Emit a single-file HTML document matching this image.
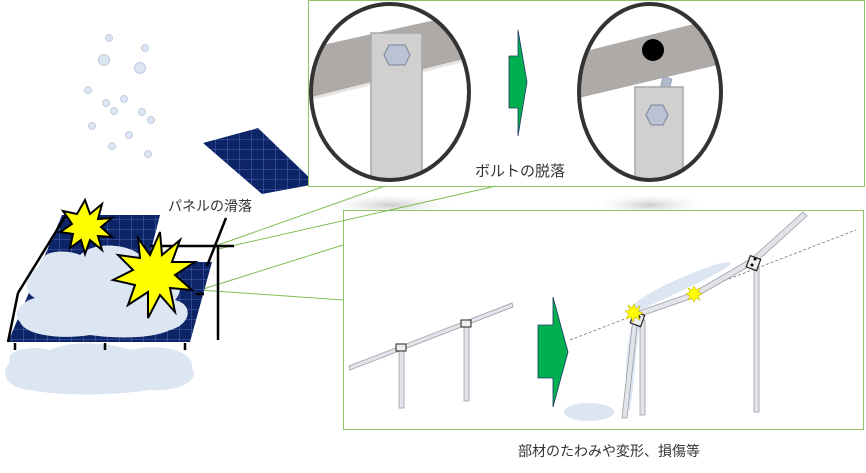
<!DOCTYPE html>
<html><head><meta charset="utf-8"><style>
html,body{margin:0;padding:0;background:#fff}
svg{display:block}
text{font-family:"Liberation Sans","Noto Sans CJK JP",sans-serif;fill:#333}
</style></head><body>
<svg width="866" height="473" viewBox="0 0 866 473" xmlns="http://www.w3.org/2000/svg">
<defs>
<pattern id="grid" width="12" height="10" patternUnits="userSpaceOnUse">
<rect width="12" height="10" fill="#0d2466"/>
<path d="M12 0V10M0 10H12" stroke="#5f7ad0" stroke-width="0.8"/>
</pattern>
<radialGradient id="sh"><stop offset="0" stop-color="#ccc"/><stop offset="1" stop-color="#fff" stop-opacity="0"/></radialGradient>
<clipPath id="c1"><ellipse cx="390" cy="92" rx="79" ry="88"/></clipPath>
<clipPath id="c2"><ellipse cx="650" cy="92" rx="71" ry="88"/></clipPath>
</defs>

<g fill="#dbe5f3" stroke="#b8c3d6" stroke-width="0.8">
<circle cx="109" cy="38" r="3.5"/><circle cx="145" cy="48" r="3.5"/><circle cx="104" cy="60" r="5.5"/><circle cx="140" cy="68" r="5.5"/>
<circle cx="88" cy="90" r="3.5"/><circle cx="106" cy="103" r="3.5"/><circle cx="124" cy="99" r="3.5"/><circle cx="114" cy="111" r="3.5"/>
<circle cx="142" cy="112" r="3.5"/><circle cx="151" cy="120" r="3.5"/><circle cx="92" cy="126" r="3.5"/><circle cx="129" cy="135" r="3.5"/>
<circle cx="112" cy="146" r="3.5"/><circle cx="148" cy="154" r="3.5"/>
</g>

<polygon points="203,143 258,128 316,184 262,194" fill="url(#grid)"/>

<ellipse cx="390" cy="205" rx="70" ry="12" fill="url(#sh)"/>
<ellipse cx="650" cy="205" rx="60" ry="12" fill="url(#sh)"/>

<rect x="308.5" y="0.5" width="556" height="186" fill="#fff" stroke="#8fc46a" stroke-width="1"/>
<g clip-path="url(#c1)">
<polygon points="300,50 480,10 480,55 300,100" fill="#aeaaa8"/>
<polygon points="300,100 480,55 480,58 300,103" fill="#e8e6e4"/>
<rect x="371" y="33" width="51" height="160" fill="#d2d0cf" stroke="#a9a7a6" stroke-width="1.5"/>
<polygon points="389,45 405,45 410,55 405,65 389,65 384,55" fill="#b9c3d4" stroke="#7a8399"/>
</g>
<ellipse cx="390" cy="92" rx="79" ry="88" fill="none" stroke="#333" stroke-width="4"/>
<polygon points="518,30 527,82 518,136 518,108 509,108 509,56 518,56" fill="#00b050" stroke="#1f3864" stroke-width="0.8"/>
<g clip-path="url(#c2)">
<polygon points="570,55 730,15 730,62 570,100" fill="#aeaaa8"/>
<polygon points="663,76 672,79 669,92 660,89" fill="#aeb9cc" stroke="#7a8399" stroke-width="0.5"/>
<rect x="635" y="87" width="48" height="110" fill="#d2d0cf" stroke="#a9a7a6" stroke-width="1.5"/>
<polygon points="651,105 663,105 668,115 663,125 651,125 646,115" fill="#b9c3d4" stroke="#7a8399"/>
<circle cx="653" cy="50" r="11" fill="#000"/>
</g>
<ellipse cx="650" cy="92" rx="71" ry="88" fill="none" stroke="#333" stroke-width="4"/>
<text x="475" y="176" font-size="15">ボルトの脱落</text>

<rect x="343.5" y="210.5" width="520" height="219" fill="#fff" stroke="#8fc46a" stroke-width="1"/>
<g stroke="#9a9da6" fill="#e2e4ea" stroke-width="0.8">
<rect x="399" y="348" width="5" height="60"/>
<rect x="464" y="323" width="5" height="78"/>
<polygon points="349,366 512,303 513,307 350,370"/>
</g>
<rect x="396" y="344" width="10" height="7" fill="#eee" stroke="#222" stroke-width="1"/>
<rect x="461" y="320" width="10" height="7" fill="#eee" stroke="#222" stroke-width="1"/>
<polygon points="553,297 568,352 553,407 553,378 538,378 538,325 553,325" fill="#00b050" stroke="#1f3864" stroke-width="0.8"/>
<!-- snow on bent structure -->
<path d="M628,410 C624,380 626,340 634,318 L640,322 C636,350 634,385 630,410 Z" fill="#dce6f3"/>
<path d="M632,306 C650,290 680,278 700,270 C720,262 740,258 726,268 C705,280 680,292 640,310 Z" fill="#dce6f3"/>
<ellipse cx="589" cy="412" rx="25" ry="9" fill="#dce6f3"/>
<line x1="570" y1="340" x2="856" y2="230" stroke="#777" stroke-width="0.8" stroke-dasharray="3,2"/>
<g stroke="#9a9da6" fill="#e2e4ea" stroke-width="0.8">
<polygon points="633,318 638,318 627,418 622,418"/>
<rect x="640" y="320" width="5" height="95"/>
<rect x="754" y="266" width="5" height="146"/>
<polygon points="636,312 694,292 696,297 638,317"/>
<polygon points="694,292 752,258 755,263 696,297"/>
<polygon points="752,258 803,212 807,216 755,263"/>
</g>
<rect x="632" y="313" width="11" height="12" fill="#eee" stroke="#222" stroke-width="1.2" transform="rotate(20 637 319)"/>
<circle cx="639" cy="317" r="1.5" fill="#000"/>
<rect x="748" y="257" width="11" height="12" fill="#eee" stroke="#222" stroke-width="1.2" transform="rotate(20 753 263)"/>
<circle cx="755" cy="259" r="1.5" fill="#000"/><circle cx="752" cy="265" r="1.5" fill="#000"/>
<g fill="#ffff00" stroke="#c9b400" stroke-width="0.6">
<polygon points="634,304 636,309 640,306 638,311 643,313 638,315 640,320 635,317 633,322 631,317 626,319 629,314 625,311 630,310 628,305 632,308"/>
<polygon points="694,286 696,290 700,288 698,292 702,294 698,296 700,300 696,298 694,302 692,298 688,300 690,296 686,294 690,292 688,288 692,290"/>
</g>
<text x="518" y="456" font-size="14">部材のたわみや変形、損傷等</text>

<g stroke="#7fbf55" stroke-width="1" fill="none">
<line x1="218" y1="245" x2="385" y2="186"/>
<line x1="218" y1="249" x2="496" y2="186"/>
<line x1="200" y1="290" x2="343" y2="245"/>
<line x1="200" y1="290" x2="343" y2="300"/>
</g>

<polygon points="62,215 160,215 148,262 212,262 190,342 8,342" fill="url(#grid)"/>
<path d="M40,265 C40,248 70,250 80,255 C95,240 130,245 140,255 C160,250 175,262 170,275 C185,280 180,295 175,300 C195,305 190,325 170,330 C150,340 110,338 90,335 C60,340 25,335 20,322 C10,312 25,300 35,298 C20,290 28,275 40,265 Z" fill="#dce6f3"/>
<path d="M10,362 C5,350 30,345 50,350 C70,340 110,342 130,350 C160,343 195,350 192,368 C200,380 180,392 150,390 C110,396 60,396 30,390 C5,388 0,372 10,362 Z" fill="#dce6f3"/>
<g stroke="#000" stroke-width="2.5" fill="none">
<line x1="18" y1="293" x2="68" y2="212"/>
<line x1="8" y1="342" x2="18" y2="293"/>
<line x1="150" y1="246" x2="234" y2="246"/>
<line x1="218" y1="246" x2="218" y2="340"/>
<line x1="226" y1="218" x2="207" y2="266"/>
<line x1="15" y1="343" x2="15" y2="350"/><line x1="105" y1="343" x2="105" y2="350"/><line x1="185" y1="343" x2="185" y2="350"/>
<line x1="196" y1="294" x2="204" y2="294"/>
</g>
<g fill="#ffff00" stroke="#000" stroke-width="2">
<polygon points="85,200 90,214 102,204 98,219 112,218 101,227 112,237 98,236 102,250 90,240 85,254 81,240 70,248 73,234 60,232 72,224 63,211 77,214"/>
<polygon points="160,232 162,255 180,240 172,262 195,262 175,275 192,290 170,288 175,312 160,295 148,318 148,292 128,305 135,285 113,280 133,270 118,255 140,258 138,238 150,255"/>
</g>
<text x="168" y="211" font-size="14">パネルの滑落</text>
</svg>
</body></html>
